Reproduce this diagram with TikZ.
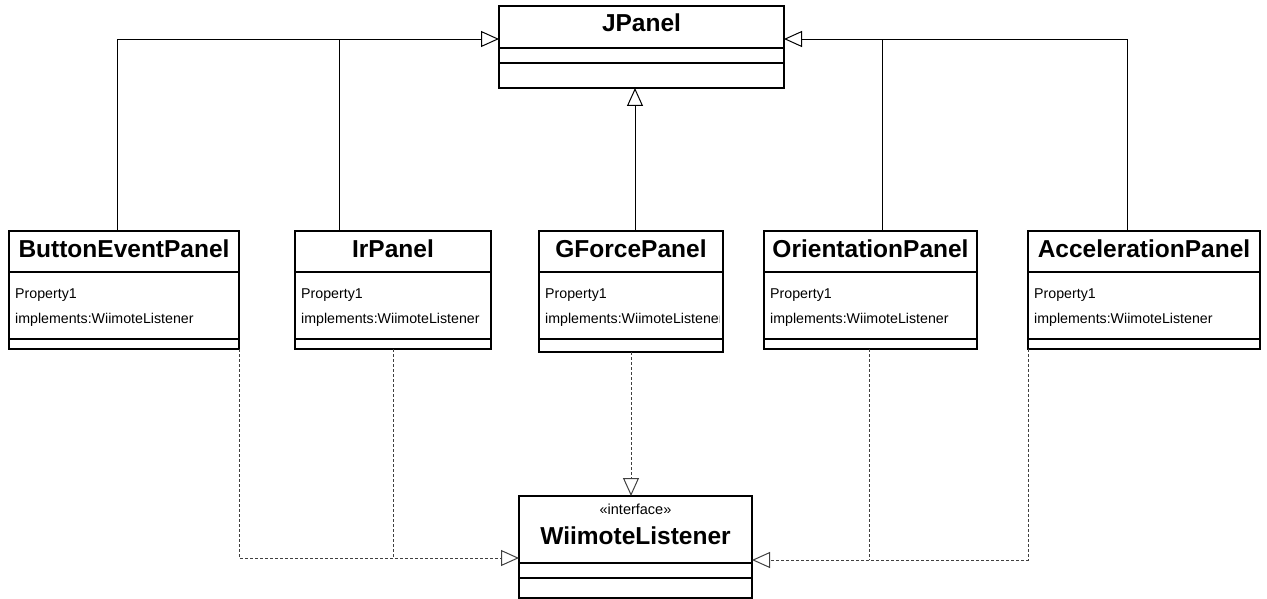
\documentclass[tikz,border=0pt]{standalone}
\usepackage{fontspec}
\setmainfont{Liberation Sans}
\usetikzlibrary{arrows.meta,calc}

\tikzset{
  classframe/.style={draw, line width=1.1pt, inner sep=0pt, outer sep=0pt, rectangle},
  classtitle/.style={font=\fontsize{24.5}{26}\selectfont\bfseries, inner sep=0pt, anchor=base},
  classattr/.style={font=\fontsize{14.2}{16}\selectfont, inner sep=0pt, anchor=base west},
  stereo/.style={font=\fontsize{14.5}{16}\selectfont, inner sep=0pt, anchor=base},
  divider/.style={line width=1.1pt},
  inherit/.style={line width=0.9pt, -{Triangle[open, length=18pt, width=16pt, line width=1pt]}},
  realize/.style={line width=0.9pt, black!75, dash pattern=on 3pt off 2pt,
    -{Triangle[open, length=18pt, width=16pt, line width=1pt]}},
  realizeline/.style={line width=0.9pt, black!75, dash pattern=on 3pt off 2pt},
  plainline/.style={line width=0.9pt},
}

% #1 name, #2 left, #3 top, #4 right, #5 bottom, #6 first divider, #7 second divider, #8 title
\newcommand\classbox[8]{%
  \node[classframe, minimum width={#4-#2}, minimum height={#5-#3}] (#1) at ({(#2+#4)/2},{(#3+#5)/2}) {};
  \draw[divider] (#2,#6) -- (#4,#6);
  \draw[divider] (#2,#7) -- (#4,#7);
  \node[classtitle] (#1-title) at ({(#2+#4)/2},{#3+26}) {#8};
}

% #1 name, #2 left, #3 first divider, #4 second divider, #5 right
\newcommand\classattrs[5]{%
  \begin{scope}
    \clip (#2,#3) rectangle ({#5-4},#4);
    \node[classattr] (#1-p1) at ({#2+6},{#3+26}) {Property1};
    \node[classattr] (#1-p2) at ({#2+6},{#3+51}) {implements:WiimoteListener};
  \end{scope}
}

\begin{document}
\begin{tikzpicture}[x=1pt, y=-1pt]
  \useasboundingbox (0,0) rectangle (1267,599);

  % superclass
  \classbox{jp}{499}{6}{784}{88}{48}{63}{JPanel}

  % panels
  \classbox{btn}{9}{231}{239}{349}{272}{339}{ButtonEventPanel}
  \classattrs{btn}{9}{272}{339}{239}
  \classbox{ir}{295}{231}{491}{349}{272}{339}{IrPanel}
  \classattrs{ir}{295}{272}{339}{491}
  \classbox{gf}{539}{231}{723}{352}{272}{339}{GForcePanel}
  \classattrs{gf}{539}{272}{339}{723}
  \classbox{ori}{764}{231}{977}{349}{272}{339}{OrientationPanel}
  \classattrs{ori}{764}{272}{339}{977}
  \classbox{ac}{1028}{231}{1260}{349}{272}{339}{AccelerationPanel}
  \classattrs{ac}{1028}{272}{339}{1260}

  % interface
  \node[classframe, minimum width=233, minimum height=102] (wl) at (635.5,547) {};
  \draw[divider] (519,563) -- (752,563);
  \draw[divider] (519,578) -- (752,578);
  \node[stereo] (wl-stereo) at (635.5,514) {«interface»};
  \node[classtitle] (wl-title) at (635.5,544) {WiimoteListener};

  % connection points
  \coordinate (jpL) at ($(jp.north west)+(0,33)$);
  \coordinate (jpR) at ($(jp.north east)+(0,33)$);
  \coordinate (btnT) at ($(btn.north west)+(108,0)$);
  \coordinate (irT) at ($(ir.north west)+(44,0)$);
  \coordinate (gfT) at ($(gf.north west)+(96,0)$);
  \coordinate (oriT) at ($(ori.north west)+(118,0)$);
  \coordinate (acT) at ($(ac.north west)+(99,0)$);
  \coordinate (wlL) at ($(wl.north west)+(0,62)$);
  \coordinate (wlR) at ($(wl.north east)+(0,64)$);
  \coordinate (irB) at ($(ir.south west)+(98,0)$);
  \coordinate (oriB) at ($(ori.south west)+(105,0)$);

  % generalisation to JPanel
  \draw[inherit] (btnT) |- (jpL);
  \draw[plainline] (irT) -- (irT |- jpL);
  \draw[inherit] (gfT) -- (gfT |- jp.south);
  \draw[inherit] (acT) |- (jpR);
  \draw[plainline] (oriT) -- (oriT |- jpR);

  % realisation of WiimoteListener
  \draw[realize] (btn.south east) |- (wlL);
  \draw[realizeline] (irB) -- (irB |- wlL);
  \draw[realize] (gf.south) -- (gf.south |- wl.north);
  \draw[realize] (ac.south west) |- (wlR);
  \draw[realizeline] (oriB) -- (oriB |- wlR);
\end{tikzpicture}
\end{document}
